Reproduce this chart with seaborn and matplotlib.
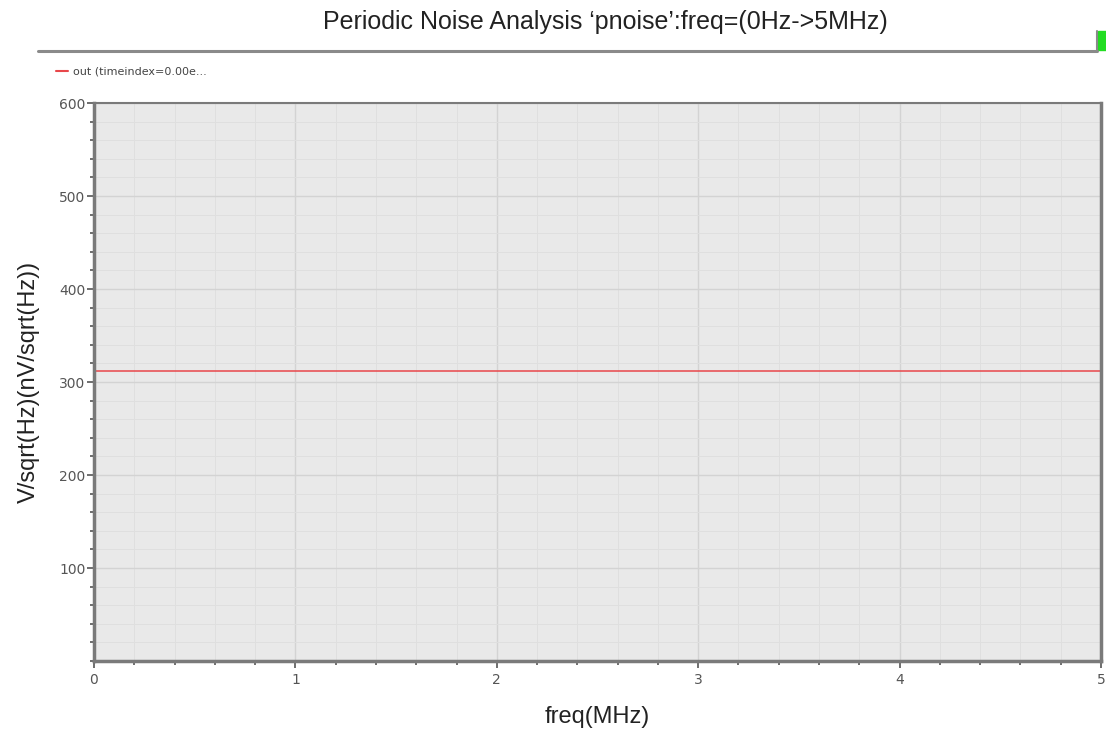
import matplotlib
matplotlib.use("Agg")
import matplotlib.pyplot as plt
import seaborn as sns
import pandas as pd
from matplotlib.ticker import MultipleLocator
from matplotlib.lines import Line2D
from matplotlib.patches import Rectangle

# Data
freq_mhz = [0.0, 1.0, 2.0, 3.0, 4.0, 5.0]
noise_nv = [312.0, 312.0, 312.0, 312.0, 312.0, 312.0]
series_name = "out (timeindex=0.00e..."
x_ticks = [0, 1, 2, 3, 4, 5]
y_ticks = [100, 200, 300, 400, 500, 600]

df = pd.DataFrame({"freq": freq_mhz, "noise": noise_nv})

sns.set_theme(style="white")
plt.rcParams['font.family'] = ['DejaVu Sans']

fig = plt.figure(figsize=(11.06, 7.29), dpi=100)
W, H = 1106, 729
left, right, top, bottom = 94, 1101, 103, 661
ax = fig.add_axes([left / W, 1 - bottom / H, (right - left) / W, (bottom - top) / H])
ax.set_facecolor("#e9e9e9")

sns.lineplot(data=df, x="freq", y="noise", ax=ax, color="#e8474a", linewidth=1.1, legend=False)

ax.set_xlim(0, 5)
ax.set_ylim(0, 600)
ax.set_xticks(x_ticks)
ax.set_yticks(y_ticks)
ax.xaxis.set_minor_locator(MultipleLocator(0.2))
ax.yaxis.set_minor_locator(MultipleLocator(20))
ax.grid(which="major", color="#d3d3d3", linewidth=1.0)
ax.grid(which="minor", color="#dfdfdf", linewidth=0.7)
ax.set_axisbelow(True)
for side in ["left", "bottom", "right", "top"]:
    ax.spines[side].set_color("#7a7a7a")
ax.spines["top"].set_linewidth(1.5)
ax.spines["left"].set_linewidth(2.5)
ax.spines["bottom"].set_linewidth(2.5)
ax.spines["right"].set_linewidth(2.5)
ax.tick_params(axis="both", which="both", bottom=True, left=True, top=False, right=False)
ax.tick_params(axis="both", which="major", direction="out", length=5, width=1.2,
               colors="#555555", labelsize=10, labelcolor="#555555")
ax.tick_params(axis="both", which="minor", direction="out", length=3, width=1.2, colors="#555555")
ax.tick_params(axis="y", pad=1)
ax.tick_params(axis="x", pad=4)

ax.set_xlabel("freq(MHz)", fontsize=17, family="Liberation Sans", color="#222222", labelpad=13)
ax.set_ylabel("V/sqrt(Hz)(nV/sqrt(Hz))", fontsize=17, family="Liberation Sans", color="#222222", labelpad=14)

# Title
fig.text(605 / W, 1 - 22 / H, "Periodic Noise Analysis \u2018pnoise\u2019:freq=(0Hz->5MHz)",
         ha="center", va="center", fontsize=18, family="Liberation Sans", color="#222222")

# Header separator line
fig.add_artist(Line2D([38 / W, 1097 / W], [1 - 51 / H, 1 - 51 / H], color="#8a8a8a", linewidth=2.2,
                      transform=fig.transFigure))
fig.add_artist(Line2D([1097 / W, 1097 / W], [1 - 51 / H, 1 - 31 / H], color="#8a8a8a", linewidth=1.5,
                      transform=fig.transFigure))
fig.add_artist(Rectangle((1098 / W, 1 - 50 / H), 8 / W, 19 / H, color="#22dd22",
                         transform=fig.transFigure))

# Legend
fig.add_artist(Line2D([56 / W, 68 / W], [1 - 71 / H, 1 - 71 / H], color="#e8474a", linewidth=1.5,
                      transform=fig.transFigure))
fig.text(73 / W, 1 - 71 / H, series_name, ha="left", va="center", fontsize=8, color="#444444")

fig.savefig("out.png", dpi=100)
